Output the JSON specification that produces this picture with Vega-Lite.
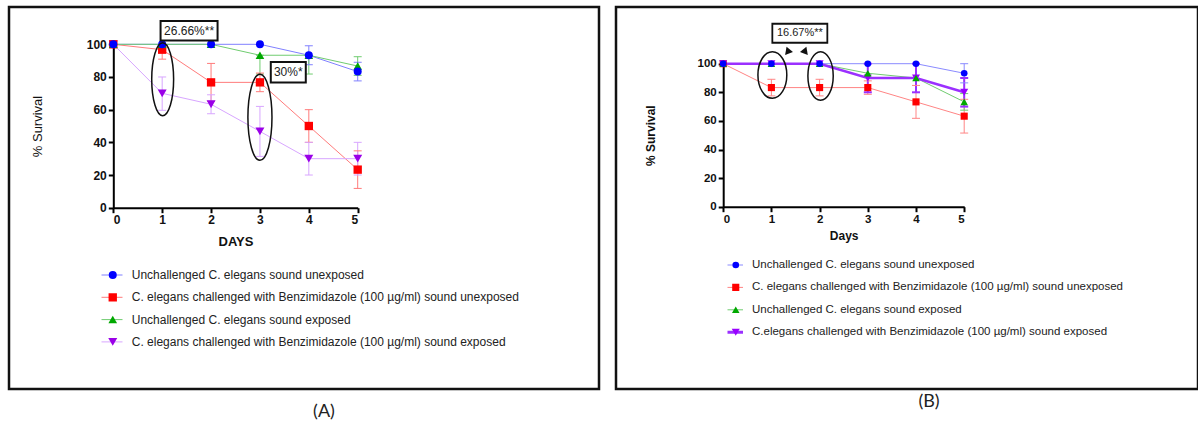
{
  "$schema": "https://vega.github.io/schema/vega-lite/v6.json",
  "background": "white",
  "padding": {"left": 7, "top": 5, "right": 0, "bottom": 0},
  "spacing": 13,
  "config": {
    "view": {"stroke": "#111", "strokeWidth": 2.5},
    "axis": {
      "grid": false,
      "domainColor": "#000",
      "domainWidth": 2,
      "tickColor": "#000",
      "tickWidth": 2,
      "tickSize": 5,
      "labelFont": "Liberation Sans",
      "labelFontWeight": "bold",
      "labelFontSize": 12,
      "labelColor": "#111",
      "labelPadding": 2,
      "titleFont": "Liberation Sans",
      "titleColor": "#111"
    },
    "legend": {
      "labelFont": "Liberation Sans",
      "labelColor": "#222",
      "labelLimit": 700,
      "padding": 0,
      "clipHeight": 16
    },
    "title": {"font": "Lato", "fontSize": 18, "fontWeight": "normal", "color": "#222"}
  },
  "datasets": {
    "A": [
      {"series": "Unchallenged C. elegans sound unexposed", "day": 0, "survival": 100},
      {"series": "Unchallenged C. elegans sound unexposed", "day": 1, "survival": 100},
      {"series": "Unchallenged C. elegans sound unexposed", "day": 2, "survival": 100},
      {"series": "Unchallenged C. elegans sound unexposed", "day": 3, "survival": 100},
      {"series": "Unchallenged C. elegans sound unexposed", "day": 4, "survival": 93.3, "lo": 87.5, "hi": 99.1},
      {"series": "Unchallenged C. elegans sound unexposed", "day": 5, "survival": 83.3, "lo": 77.6, "hi": 89},
      {"series": "C. elegans challenged with Benzimidazole (100 µg/ml) sound unexposed", "day": 0, "survival": 100},
      {"series": "C. elegans challenged with Benzimidazole (100 µg/ml) sound unexposed", "day": 1, "survival": 96.7, "lo": 90.9, "hi": 100},
      {"series": "C. elegans challenged with Benzimidazole (100 µg/ml) sound unexposed", "day": 2, "survival": 76.7, "lo": 65.1, "hi": 88.3},
      {"series": "C. elegans challenged with Benzimidazole (100 µg/ml) sound unexposed", "day": 3, "survival": 76.7, "lo": 71, "hi": 82.4},
      {"series": "C. elegans challenged with Benzimidazole (100 µg/ml) sound unexposed", "day": 4, "survival": 50, "lo": 40, "hi": 60},
      {"series": "C. elegans challenged with Benzimidazole (100 µg/ml) sound unexposed", "day": 5, "survival": 23.3, "lo": 11.8, "hi": 34.8},
      {"series": "Unchallenged C. elegans sound exposed", "day": 0, "survival": 100},
      {"series": "Unchallenged C. elegans sound exposed", "day": 1, "survival": 100},
      {"series": "Unchallenged C. elegans sound exposed", "day": 2, "survival": 100},
      {"series": "Unchallenged C. elegans sound exposed", "day": 3, "survival": 93.3, "lo": 81.8, "hi": 93.3},
      {"series": "Unchallenged C. elegans sound exposed", "day": 4, "survival": 93.3, "lo": 81.8, "hi": 93.3},
      {"series": "Unchallenged C. elegans sound exposed", "day": 5, "survival": 86.7, "lo": 81, "hi": 92.4},
      {"series": "C. elegans challenged with Benzimidazole (100 µg/ml) sound exposed", "day": 0, "survival": 100},
      {"series": "C. elegans challenged with Benzimidazole (100 µg/ml) sound exposed", "day": 1, "survival": 70, "lo": 59.6, "hi": 80},
      {"series": "C. elegans challenged with Benzimidazole (100 µg/ml) sound exposed", "day": 2, "survival": 63.3, "lo": 57.5, "hi": 69.1},
      {"series": "C. elegans challenged with Benzimidazole (100 µg/ml) sound exposed", "day": 3, "survival": 46.7, "lo": 31.4, "hi": 62},
      {"series": "C. elegans challenged with Benzimidazole (100 µg/ml) sound exposed", "day": 4, "survival": 30, "lo": 20, "hi": 40},
      {"series": "C. elegans challenged with Benzimidazole (100 µg/ml) sound exposed", "day": 5, "survival": 30, "lo": 20, "hi": 40}
    ],
    "B": [
      {"series": "Unchallenged C. elegans sound unexposed", "day": 0, "survival": 100},
      {"series": "Unchallenged C. elegans sound unexposed", "day": 1, "survival": 100},
      {"series": "Unchallenged C. elegans sound unexposed", "day": 2, "survival": 100},
      {"series": "Unchallenged C. elegans sound unexposed", "day": 3, "survival": 100},
      {"series": "Unchallenged C. elegans sound unexposed", "day": 4, "survival": 100},
      {"series": "Unchallenged C. elegans sound unexposed", "day": 5, "survival": 93.3, "lo": 86.6, "hi": 100},
      {"series": "C. elegans challenged with Benzimidazole (100 µg/ml) sound unexposed", "day": 0, "survival": 100},
      {"series": "C. elegans challenged with Benzimidazole (100 µg/ml) sound unexposed", "day": 1, "survival": 83.3, "lo": 77.5, "hi": 89.1},
      {"series": "C. elegans challenged with Benzimidazole (100 µg/ml) sound unexposed", "day": 2, "survival": 83.3, "lo": 77.5, "hi": 89.1},
      {"series": "C. elegans challenged with Benzimidazole (100 µg/ml) sound unexposed", "day": 3, "survival": 83.3, "lo": 78.6, "hi": 88},
      {"series": "C. elegans challenged with Benzimidazole (100 µg/ml) sound unexposed", "day": 4, "survival": 73.3, "lo": 61.8, "hi": 84.8},
      {"series": "C. elegans challenged with Benzimidazole (100 µg/ml) sound unexposed", "day": 5, "survival": 63.3, "lo": 51.5, "hi": 75.1},
      {"series": "Unchallenged C. elegans sound exposed", "day": 0, "survival": 100},
      {"series": "Unchallenged C. elegans sound exposed", "day": 1, "survival": 100},
      {"series": "Unchallenged C. elegans sound exposed", "day": 2, "survival": 100},
      {"series": "Unchallenged C. elegans sound exposed", "day": 3, "survival": 93.3},
      {"series": "Unchallenged C. elegans sound exposed", "day": 4, "survival": 90},
      {"series": "Unchallenged C. elegans sound exposed", "day": 5, "survival": 73.3, "lo": 67.5, "hi": 79.1},
      {"series": "C.elegans challenged with Benzimidazole (100 µg/ml) sound exposed", "day": 0, "survival": 100},
      {"series": "C.elegans challenged with Benzimidazole (100 µg/ml) sound exposed", "day": 1, "survival": 100},
      {"series": "C.elegans challenged with Benzimidazole (100 µg/ml) sound exposed", "day": 2, "survival": 100},
      {"series": "C.elegans challenged with Benzimidazole (100 µg/ml) sound exposed", "day": 3, "survival": 90, "lo": 80, "hi": 100},
      {"series": "C.elegans challenged with Benzimidazole (100 µg/ml) sound exposed", "day": 4, "survival": 90, "lo": 80, "hi": 100},
      {"series": "C.elegans challenged with Benzimidazole (100 µg/ml) sound exposed", "day": 5, "survival": 80, "lo": 70, "hi": 90}
    ],
    "boxA": [
      {"day": 1.55, "survival": 108.3, "label": "26.66%**"},
      {"day": 3.58, "survival": 82.9, "label": "30%*"}
    ],
    "boxB": [
      {"day": 1.59, "survival": 121.3, "label": "16.67%**"}
    ]
  },
  "hconcat": [
    {
      "width": 590,
      "height": 382,
      "title": {"text": "(A)", "orient": "bottom", "anchor": "middle", "dx": 20, "offset": 14},
      "data": {"name": "A"},
      "layer": [
        {
          "mark": {"type": "line", "strokeWidth": 1},
          "encoding": {
            "x": {"field": "day", "type": "quantitative", "scale": {"domain": [0, 5], "range": [104.3, 348.7], "nice": false, "zero": false},
                  "axis": {"values": [0, 1, 2, 3, 4, 5], "format": "d", "offset": -181.3, "title": "DAYS", "titleFontWeight": "bold", "titleFontSize": 13, "titlePadding": 10}},
            "y": {"field": "survival", "type": "quantitative", "scale": {"domain": [0, 100], "range": [200.7, 37.3], "nice": false},
                  "axis": {"values": [0, 20, 40, 60, 80, 100], "offset": -104.3, "title": "% Survival", "titleFontWeight": "normal", "titleFontSize": 13, "titleX": -76, "titleY": 119, "titleBaseline": "middle"}},
            "stroke": {"field": "series", "type": "nominal",
              "scale": {"domain": ["Unchallenged C. elegans sound unexposed", "C. elegans challenged with Benzimidazole (100 µg/ml) sound unexposed", "Unchallenged C. elegans sound exposed", "C. elegans challenged with Benzimidazole (100 µg/ml) sound exposed"],
                        "range": ["#8080ff", "#ff7b7b", "#70cc70", "#d8a6ff"]},
              "legend": {"orient": "none", "legendX": 92, "legendY": 260, "title": null, "symbolType": "stroke", "symbolSize": 441, "symbolStrokeWidth": 1, "labelExpr": "''", "labelFontSize": 12, "rowPadding": 6.3}}
          }
        },
        {
          "transform": [{"filter": "isValid(datum.lo)"}],
          "mark": {"type": "rule", "strokeWidth": 1},
          "encoding": {
            "x": {"field": "day", "type": "quantitative"},
            "y": {"field": "lo", "type": "quantitative"},
            "y2": {"field": "hi"},
            "stroke": {"field": "series", "type": "nominal"}
          }
        },
        {
          "transform": [{"filter": "isValid(datum.lo)"}],
          "mark": {"type": "point", "shape": "stroke", "filled": false, "size": 64, "strokeWidth": 1, "opacity": 1},
          "encoding": {
            "x": {"field": "day", "type": "quantitative"},
            "y": {"field": "lo", "type": "quantitative"},
            "stroke": {"field": "series", "type": "nominal"}
          }
        },
        {
          "transform": [{"filter": "isValid(datum.hi)"}],
          "mark": {"type": "point", "shape": "stroke", "filled": false, "size": 64, "strokeWidth": 1, "opacity": 1},
          "encoding": {
            "x": {"field": "day", "type": "quantitative"},
            "y": {"field": "hi", "type": "quantitative"},
            "stroke": {"field": "series", "type": "nominal"}
          }
        },
        {
          "mark": {"type": "point", "filled": true, "opacity": 1, "strokeWidth": 0},
          "encoding": {
            "x": {"field": "day", "type": "quantitative"},
            "y": {"field": "survival", "type": "quantitative"},
            "order": {"field": "series", "sort": "ascending"},
            "fill": {"field": "series", "type": "nominal", "sort": null,
              "scale": {"range": ["#0000ff", "#ff0000", "#00a800", "#9a00e8"]},
              "legend": {"orient": "none", "legendX": 97.75, "legendY": 260, "title": null, "labelFontSize": 12, "labelOffset": 13, "rowPadding": 6.3}},
            "shape": {"field": "series", "type": "nominal", "sort": null,
              "scale": {"range": ["circle", "square", "triangle-up", "triangle-down"]},
              "legend": {"orient": "none", "legendX": 97.75, "legendY": 260, "title": null, "labelFontSize": 12, "labelOffset": 13, "rowPadding": 6.3}},
            "size": {"field": "series", "type": "nominal", "sort": null,
              "scale": {"range": [64, 81, 49, 56]},
              "legend": {"orient": "none", "legendX": 97.75, "legendY": 260, "title": null, "labelFontSize": 12, "labelOffset": 13, "rowPadding": 6.3}}
          }
        },
        {
          "data": {"values": [{"day": 1.01, "survival": 78.6}]},
          "mark": {"type": "point", "shape": "M0,-1C0.1657,-1,0.3,-0.5523,0.3,0C0.3,0.5523,0.1657,1,0,1C-0.1657,1,-0.3,0.5523,-0.3,0C-0.3,-0.5523,-0.1657,-1,0,-1Z", "size": 5329, "filled": false, "stroke": "#111", "strokeWidth": 1.5, "opacity": 1},
          "encoding": {"x": {"field": "day", "type": "quantitative"}, "y": {"field": "survival", "type": "quantitative"}}
        },
        {
          "data": {"values": [{"day": 3.0, "survival": 55.3}]},
          "mark": {"type": "point", "shape": "M0,-1C0.1546,-1,0.28,-0.5523,0.28,0C0.28,0.5523,0.1546,1,0,1C-0.1546,1,-0.28,0.5523,-0.28,0C-0.28,-0.5523,-0.1546,-1,0,-1Z", "size": 7396, "filled": false, "stroke": "#111", "strokeWidth": 1.5, "opacity": 1},
          "encoding": {"x": {"field": "day", "type": "quantitative"}, "y": {"field": "survival", "type": "quantitative"}}
        },
        {
          "data": {"name": "boxA"},
          "transform": [{"filter": "datum.label === '26.66%**'"}],
          "mark": {"type": "point", "shape": "M-1,-0.34H1V0.34H-1Z", "size": 3249, "filled": true, "fill": "white", "stroke": "#111", "strokeWidth": 2, "opacity": 1},
          "encoding": {"x": {"field": "day", "type": "quantitative"}, "y": {"field": "survival", "type": "quantitative"}}
        },
        {
          "data": {"name": "boxA"},
          "transform": [{"filter": "datum.label === '30%*'"}],
          "mark": {"type": "point", "shape": "M-1,-0.59H1V0.59H-1Z", "size": 1225, "filled": true, "fill": "white", "stroke": "#111", "strokeWidth": 2, "opacity": 1},
          "encoding": {"x": {"field": "day", "type": "quantitative"}, "y": {"field": "survival", "type": "quantitative"}}
        },
        {
          "data": {"name": "boxA"},
          "mark": {"type": "text", "font": "Liberation Sans", "fontSize": 12, "color": "#222"},
          "encoding": {"x": {"field": "day", "type": "quantitative"}, "y": {"field": "survival", "type": "quantitative"}, "text": {"field": "label"}}
        }
      ]
    },
    {
      "width": 582,
      "height": 382,
      "title": {"text": "(B)", "orient": "bottom", "anchor": "middle", "dx": 22, "offset": 4},
      "data": {"name": "B"},
      "layer": [
        {
          "mark": {"type": "line"},
          "encoding": {
            "x": {"field": "day", "type": "quantitative", "scale": {"domain": [0, 5], "range": [107.2, 348.2], "nice": false, "zero": false},
                  "axis": {"values": [0, 1, 2, 3, 4, 5], "format": "d", "offset": -182.3, "title": "Days", "titleFontWeight": "bold", "titleFontSize": 12, "titlePadding": 5, "labelFontSize": 11.5}},
            "y": {"field": "survival", "type": "quantitative", "scale": {"domain": [0, 100], "range": [199.7, 56.7], "nice": false},
                  "axis": {"values": [0, 20, 40, 60, 80, 100], "offset": -107.2, "title": "% Survival", "titleFontWeight": "bold", "titleFontSize": 12, "titleX": -73, "titleY": 128.2, "titleBaseline": "middle", "labelFontSize": 11.5}},
            "stroke": {"field": "series", "type": "nominal",
              "scale": {"domain": ["Unchallenged C. elegans sound unexposed", "C. elegans challenged with Benzimidazole (100 µg/ml) sound unexposed", "Unchallenged C. elegans sound exposed", "C.elegans challenged with Benzimidazole (100 µg/ml) sound exposed"],
                        "range": ["#8a8aff", "#ff8585", "#70cc70", "#9b30ff"]},
              "legend": {"orient": "none", "legendX": 111.5, "legendY": 250, "title": null, "symbolType": "stroke", "symbolSize": 400, "symbolStrokeWidth": 1, "labelExpr": "''", "labelFontSize": 11.5, "rowPadding": 6.4,
                         "encode": {"symbols": {"update": {"strokeWidth": {"signal": "datum.index === 3 ? 3 : 1"}}}}}},
            "strokeWidth": {"condition": {"test": "datum.series === 'C.elegans challenged with Benzimidazole (100 µg/ml) sound exposed'", "value": 2.5}, "value": 1}
          }
        },
        {
          "transform": [{"filter": "isValid(datum.lo)"}],
          "mark": {"type": "rule"},
          "encoding": {
            "x": {"field": "day", "type": "quantitative"},
            "y": {"field": "lo", "type": "quantitative"},
            "y2": {"field": "hi"},
            "stroke": {"field": "series", "type": "nominal"},
            "strokeWidth": {"condition": {"test": "datum.series === 'C.elegans challenged with Benzimidazole (100 µg/ml) sound exposed'", "value": 2}, "value": 1}
          }
        },
        {
          "transform": [{"filter": "isValid(datum.lo)"}],
          "mark": {"type": "point", "shape": "stroke", "filled": false, "size": 64, "opacity": 1},
          "encoding": {
            "x": {"field": "day", "type": "quantitative"},
            "y": {"field": "lo", "type": "quantitative"},
            "stroke": {"field": "series", "type": "nominal"},
            "strokeWidth": {"condition": {"test": "datum.series === 'C.elegans challenged with Benzimidazole (100 µg/ml) sound exposed'", "value": 2}, "value": 1}
          }
        },
        {
          "transform": [{"filter": "isValid(datum.hi)"}],
          "mark": {"type": "point", "shape": "stroke", "filled": false, "size": 64, "opacity": 1},
          "encoding": {
            "x": {"field": "day", "type": "quantitative"},
            "y": {"field": "hi", "type": "quantitative"},
            "stroke": {"field": "series", "type": "nominal"},
            "strokeWidth": {"condition": {"test": "datum.series === 'C.elegans challenged with Benzimidazole (100 µg/ml) sound exposed'", "value": 2}, "value": 1}
          }
        },
        {
          "mark": {"type": "point", "filled": true, "opacity": 1, "strokeWidth": 0},
          "encoding": {
            "x": {"field": "day", "type": "quantitative"},
            "y": {"field": "survival", "type": "quantitative"},
            "order": {"field": "series", "sort": "ascending"},
            "fill": {"field": "series", "type": "nominal", "sort": null,
              "scale": {"range": ["#0000ff", "#ff0000", "#00a800", "#9900ff"]},
              "legend": {"orient": "none", "legendX": 114, "legendY": 250, "title": null, "labelFontSize": 11.5, "labelOffset": 10.5, "rowPadding": 6.4}},
            "shape": {"field": "series", "type": "nominal", "sort": null,
              "scale": {"range": ["circle", "square", "triangle-up", "triangle-down"]},
              "legend": {"orient": "none", "legendX": 114, "legendY": 250, "title": null, "labelFontSize": 11.5, "labelOffset": 10.5, "rowPadding": 6.4}},
            "size": {"field": "series", "type": "nominal", "sort": null,
              "scale": {"range": [44, 64, 40, 169]},
              "legend": {"orient": "none", "legendX": 114, "legendY": 250, "title": null, "labelFontSize": 11.5, "labelOffset": 10.5, "rowPadding": 6.4}}
          }
        },
        {
          "data": {"values": [{"day": 1.02, "survival": 92.1}]},
          "mark": {"type": "point", "shape": "M0,-1C0.3424,-1,0.62,-0.5523,0.62,0C0.62,0.5523,0.3424,1,0,1C-0.3424,1,-0.62,0.5523,-0.62,0C-0.62,-0.5523,-0.3424,-1,0,-1Z", "size": 2172, "filled": false, "stroke": "#111", "strokeWidth": 1.5, "opacity": 1},
          "encoding": {"x": {"field": "day", "type": "quantitative"}, "y": {"field": "survival", "type": "quantitative"}}
        },
        {
          "data": {"values": [{"day": 2.02, "survival": 91.4}]},
          "mark": {"type": "point", "shape": "M0,-1C0.2872,-1,0.52,-0.5523,0.52,0C0.52,0.5523,0.2872,1,0,1C-0.2872,1,-0.52,0.5523,-0.52,0C-0.52,-0.5523,-0.2872,-1,0,-1Z", "size": 2372, "filled": false, "stroke": "#111", "strokeWidth": 1.5, "opacity": 1},
          "encoding": {"x": {"field": "day", "type": "quantitative"}, "y": {"field": "survival", "type": "quantitative"}}
        },
        {
          "data": {"values": [{"day": 1.34, "survival": 109.5}]},
          "mark": {"type": "point", "shape": "triangle-up", "angle": -20, "size": 70, "filled": true, "fill": "#111", "opacity": 1},
          "encoding": {"x": {"field": "day", "type": "quantitative"}, "y": {"field": "survival", "type": "quantitative"}}
        },
        {
          "data": {"values": [{"day": 1.7, "survival": 109.5}]},
          "mark": {"type": "point", "shape": "triangle-up", "angle": 20, "size": 70, "filled": true, "fill": "#111", "opacity": 1},
          "encoding": {"x": {"field": "day", "type": "quantitative"}, "y": {"field": "survival", "type": "quantitative"}}
        },
        {
          "data": {"name": "boxB"},
          "mark": {"type": "point", "shape": "M-1,-0.345H1V0.345H-1Z", "size": 3025, "filled": true, "fill": "white", "stroke": "#111", "strokeWidth": 1.8, "opacity": 1},
          "encoding": {"x": {"field": "day", "type": "quantitative"}, "y": {"field": "survival", "type": "quantitative"}}
        },
        {
          "data": {"name": "boxB"},
          "mark": {"type": "text", "font": "Liberation Sans", "fontSize": 11, "color": "#222"},
          "encoding": {"x": {"field": "day", "type": "quantitative"}, "y": {"field": "survival", "type": "quantitative"}, "text": {"field": "label"}}
        }
      ]
    }
  ],
  "resolve": {
    "scale": {"x": "independent", "y": "independent", "stroke": "independent", "fill": "independent", "shape": "independent", "size": "independent"},
    "legend": {"stroke": "independent", "fill": "independent", "shape": "independent", "size": "independent"}
  }
}
